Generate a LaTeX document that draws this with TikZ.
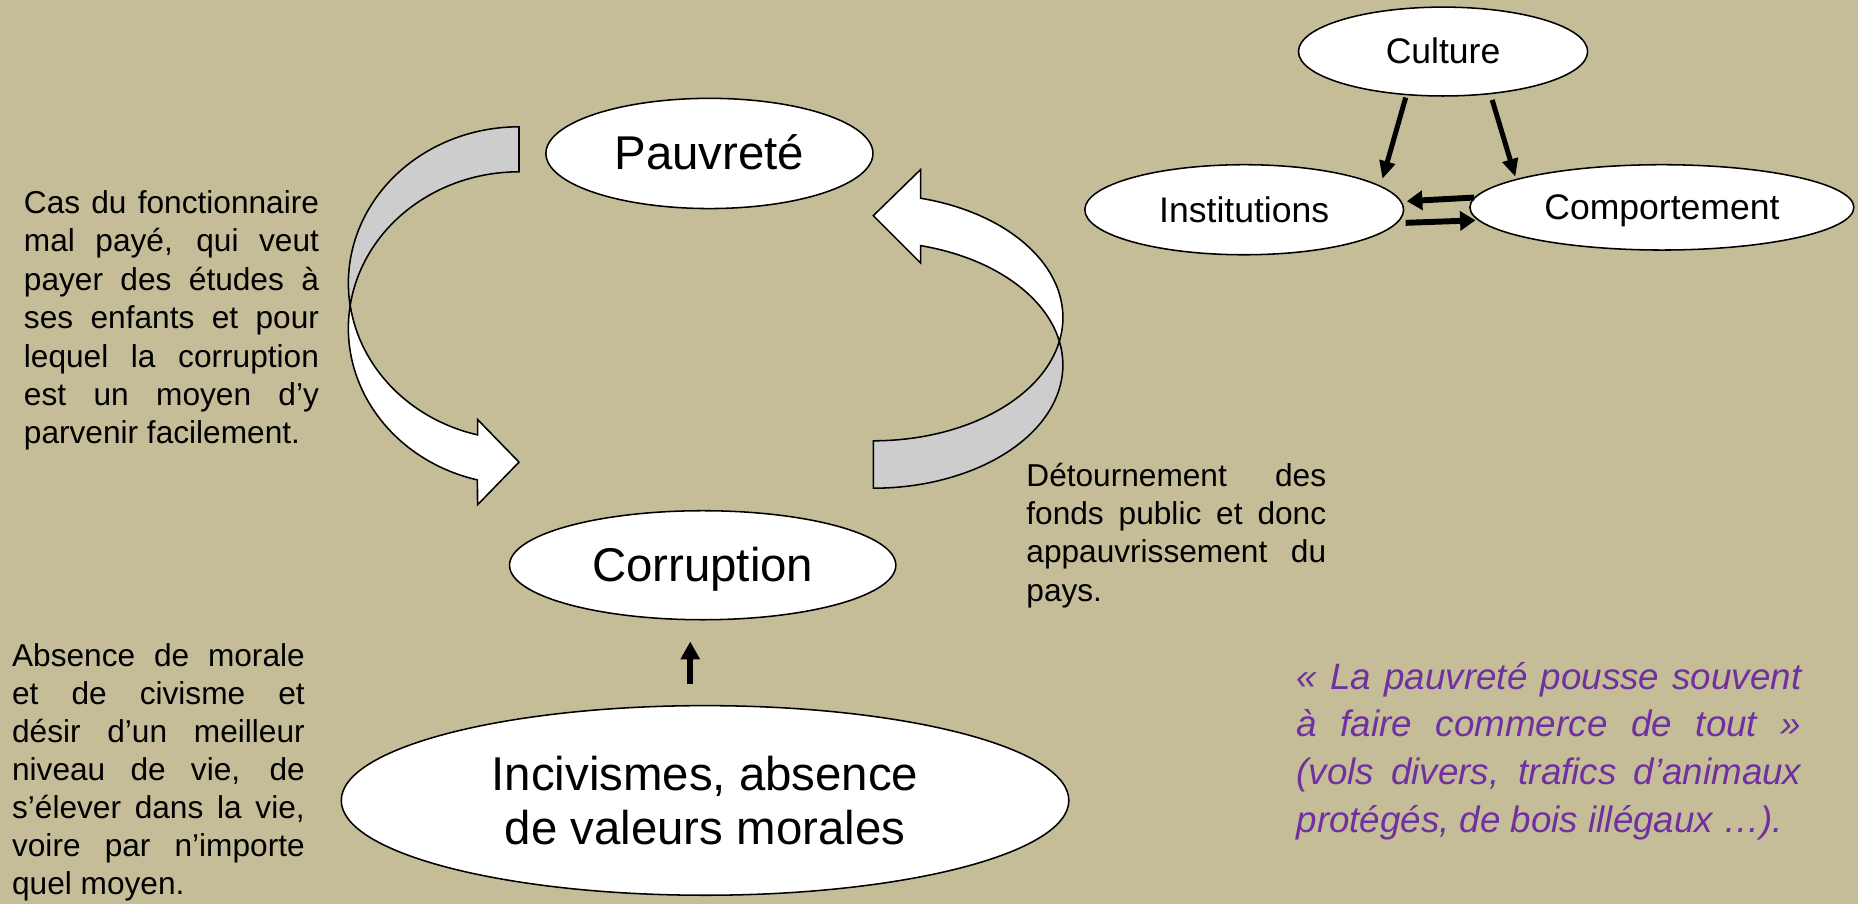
\documentclass[tikz,border=0pt]{standalone}
\usepackage{fontspec}
\setmainfont{Liberation Sans}
\usetikzlibrary{shapes.geometric,arrows.meta}
\definecolor{bgtan}{HTML}{C4BD97}
\definecolor{backgray}{RGB}{205,205,205}
\definecolor{quotepurple}{HTML}{7030A0}
\newcommand{\jstline}[2]{\makebox[#1][s]{#2}}
\begin{document}
\begin{tikzpicture}[x=1pt,y=1pt,
  bubble/.style={ellipse, draw=black, fill=white, line width=1.3pt, inner sep=0pt, align=center},
  bigtxt/.style={font=\fontsize{40}{46}\selectfont},
  bigone/.style={bigtxt, text height=36.2pt, text depth=8.5pt},
  smalltxt/.style={font=\fontsize{30}{36}\selectfont, text height=27.2pt, text depth=6.4pt},
  culturearr/.style={line width=4.2pt, -{Triangle[length=15pt,width=13pt]}},
  sidearr/.style={line width=5pt, -{Triangle[length=13pt,width=16pt]}},
  uparr/.style={line width=4.8pt, -{Triangle[length=15pt,width=15.5pt]}},
  ribbonfront/.style={fill=white, draw=black, line width=1.3pt, line join=miter},
  ribbonback/.style={fill=backgray, draw=black, line width=1.3pt},
  note/.style={anchor=north west, inner sep=0pt, align=left, font=\fontsize{26.7}{32.4}\selectfont}]
\useasboundingbox (0,0) rectangle (1568,-763);
\fill[bgtan] (0,0) rectangle (1568,-763);

% left curved ribbon arrow
\filldraw[ribbonback] (438,-107) arc[start angle=90, end angle=188.275, x radius=144, y radius=132]
  arc[start angle=171.725, end angle=90, x radius=144, y radius=132] -- cycle;
\filldraw[ribbonfront] (295.5,-258) arc[start angle=171.725, end angle=255.9, x radius=144, y radius=132]
  -- (403,-426) -- (438,-390) -- (403,-354) -- (403,-367)
  arc[start angle=255.9, end angle=188.275, x radius=144, y radius=132] -- cycle;

% right curved ribbon arrow
\filldraw[ribbonback] (737,-412) arc[start angle=-90, end angle=11.09, x radius=160, y radius=104]
  arc[start angle=-11.09, end angle=-90, x radius=160, y radius=104] -- cycle;
\filldraw[ribbonfront] (894,-288) arc[start angle=-11.09, end angle=75.52, x radius=160, y radius=104]
  -- (777,-143) -- (737,-182) -- (777,-222) -- (777,-207.3)
  arc[start angle=75.52, end angle=11.09, x radius=160, y radius=104] -- cycle;

% main ellipses
\node[bubble, bigone, minimum width=276pt, minimum height=93pt] (pauv) at (598.7,-129.5) {Pauvreté};
\node[bubble, bigone, minimum width=326pt, minimum height=92pt] (corr) at (593,-477) {Corruption};
\node[bubble, bigtxt, minimum width=614pt, minimum height=160pt] (incv) at (595,-675.5) {Incivismes, absence\\de valeurs morales};
\draw[uparr] ([xshift=-12.5pt,yshift=17.5pt]incv.north) -- ([xshift=-10.5pt,yshift=-17.7pt]corr.south);

% top right graph
\node[bubble, smalltxt, minimum width=244pt, minimum height=75pt] (cult) at (1217.8,-43.5) {Culture};
\node[bubble, smalltxt, minimum width=269pt, minimum height=76pt] (inst) at (1050,-177) {Institutions};
\node[bubble, smalltxt, minimum width=324pt, minimum height=72pt] (comp) at (1402.5,-175) {Comportement};
\draw[culturearr, shorten <=2pt, shorten >=6pt] (cult.230.3) -- (inst.10.4);
\draw[culturearr, shorten <=5pt, shorten >=2pt] (cult.318) -- (comp.169);
\draw[sidearr, shorten >=4.4pt] (comp.177.8) -- (inst.3.57);
\draw[sidearr, shorten <=7pt, shorten >=2pt] (inst.355.6) -- (comp.184.5);

% texts
\node[note] (ntop) at (20,-155) {\rule{0pt}{25pt}\jstline{249pt}{Cas du fonctionnaire}\\
\jstline{249pt}{mal payé, qui veut}\\
\jstline{249pt}{payer des études à}\\
\jstline{249pt}{ses enfants et pour}\\
\jstline{249pt}{lequel la corruption}\\
\jstline{249pt}{est un moyen d’y}\\
parvenir facilement.};

\node[note] (nright) at (866,-385) {\rule{0pt}{25pt}\jstline{253pt}{Détournement des}\\
\jstline{253pt}{fonds public et donc}\\
\jstline{253pt}{appauvrissement du}\\
pays.};

\node[note, font=\fontsize{26.7}{32}\selectfont] (nbottom) at (10,-537.6) {\rule{0pt}{25pt}\jstline{247pt}{Absence de morale}\\
\jstline{247pt}{et de civisme et}\\
\jstline{247pt}{désir d’un meilleur}\\
\jstline{247pt}{niveau de vie, de}\\
\jstline{247pt}{s’élever dans la vie,}\\
\jstline{247pt}{voire par n’importe}\\
quel moyen.};

\node[note, font=\fontsize{31}{40.2}\selectfont\itshape, text=quotepurple] (quote) at (1094,-551.5) {\rule{0pt}{30pt}\jstline{426pt}{« La pauvreté pousse souvent}\\
\jstline{426pt}{à faire commerce de tout »}\\
\jstline{426pt}{(vols divers, trafics d’animaux}\\
protégés, de bois illégaux …).};
\end{tikzpicture}
\end{document}
